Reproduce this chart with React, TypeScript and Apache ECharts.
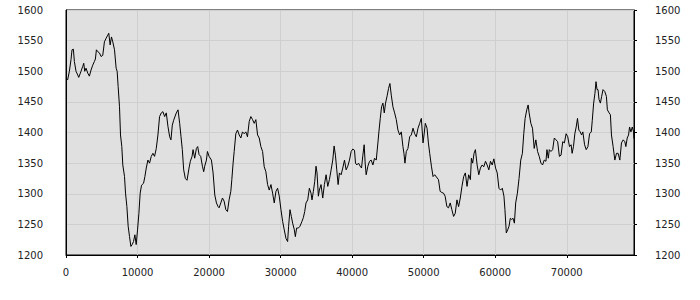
import React, { useEffect, useRef } from "react";
import * as echarts from "echarts";

const xTickLabels = ["0", "10000", "20000", "30000", "40000", "50000", "60000", "70000"];
const yTickLabels = ["1200", "1250", "1300", "1350", "1400", "1450", "1500", "1550", "1600"];

const xs = [
  0, 230, 470, 700, 840, 1030, 1170, 1400, 1640, 1780, 2100, 2340, 2480, 2620, 2800, 3040, 3270, 3500, 3740, 3970,
  4110, 4250, 4440, 4670, 4910, 5140, 5370, 5610, 5840, 5980, 6170, 6360, 6540, 6780, 7010, 7150, 7290, 7480, 7620, 7800,
  7940, 8180, 8320, 8510, 8690, 8880, 9070, 9250, 9440, 9630, 9810, 10000, 10190, 10370, 10560, 10840, 11030, 11220, 11450, 11680,
  11920, 12150, 12380, 12620, 12850, 13080, 13320, 13550, 13790, 14020, 14250, 14490, 14670, 14860, 15050, 15420, 15660, 15890, 16080, 16260,
  16450, 16680, 16920, 17200, 17380, 17620, 17760, 17990, 18230, 18410, 18600, 18830, 19070, 19250, 19390, 19630, 19770, 20000, 20330, 20560,
  20800, 21030, 21260,
  21400, 21640, 21870, 22100, 22340, 22570, 22800, 23040, 23180, 23360, 23510, 23740, 23970, 24210, 24440, 24670, 24910, 25140, 25370, 25610,
  25840, 26080, 26310, 26540, 26780, 27010, 27240, 27480, 27710, 27940, 28180, 28410, 28650, 28880, 29110, 29350, 29580, 29810, 30050, 30280,
  30510, 30750, 30980, 31120, 31310, 31500, 31680, 31920, 32060, 32240, 32480, 32710, 32990, 33180, 33370, 33550, 33790, 34020, 34250, 34390,
  34580, 34770, 34950, 35090, 35280, 35420, 35650, 35890, 36120, 36360, 36590, 36820, 37060, 37290, 37480, 37660, 37850, 38040, 38220, 38460,
  38690, 38930, 39160, 39390, 39630, 39860, 40090, 40330, 40470, 40650, 40890, 41120, 41310, 41500, 41680, 41820, 41960, 42200, 42430, 42660,
  42900, 43130, 43370, 43600, 43740, 43930, 44110, 44300, 44490, 44670, 44910, 45090, 45280, 45470, 45700, 45940, 46170, 46400, 46640, 46870,
  47100, 47240, 47380, 47570, 47800, 48040, 48270, 48510, 48740, 48970, 49210, 49440, 49670, 49910, 50050, 50230, 50470, 50660, 50840, 51080,
  51310, 51540,
  52070, 52300, 52540, 52770, 53000, 53240, 53470, 53710, 53940, 54180, 54410, 54650, 54880, 55120, 55350, 55590, 55820, 56060, 56290, 56530,
  56670, 56850, 57040, 57230, 57470, 57700, 57930, 58170, 58400, 58640, 58870, 59110, 59340, 59580, 59810, 60050, 60280, 60520, 60750, 60990,
  61220, 61360, 61550, 61740, 61930, 62110, 62300, 62490, 62680, 62860, 63100, 63330, 63570, 63800, 63990, 64180, 64410, 64600, 64740, 64980,
  65210, 65450, 65680, 65920, 66150, 66390, 66620, 66850, 67090, 67230, 67420, 67560, 67790, 68030, 68260, 68500, 68730, 68970, 69200, 69440,
  69670, 69910, 70140, 70380, 70610, 70750, 70940, 71130, 71320, 71500, 71690, 71880, 72070, 72250, 72490, 72720, 72960, 73190, 73430, 73570,
  73760, 73940, 74090, 74230, 74370, 74510, 74700, 74880, 75070, 75310, 75540, 75680, 75920, 76100, 76250, 76480, 76720, 76950, 77180, 77420,
  77650, 77890, 78120, 78260, 78450, 78640, 78780, 78970, 79160, 79340, 79400,
];

const prices = [
  1489, 1486, 1500, 1519, 1535, 1536, 1516, 1500, 1494, 1490, 1500, 1508, 1513, 1500, 1505, 1497, 1492, 1502, 1510, 1516,
  1520, 1535, 1532, 1530, 1524, 1526, 1548, 1554, 1559, 1562, 1543, 1556, 1548, 1535, 1505, 1500, 1475, 1442, 1396, 1377,
  1347, 1328, 1301, 1279, 1247, 1230, 1214, 1217, 1222, 1233, 1217, 1241, 1268, 1301, 1314, 1317, 1328, 1342, 1355, 1350,
  1361, 1366, 1361, 1374, 1396, 1426, 1432, 1434, 1426, 1432, 1410, 1393, 1388, 1412, 1420, 1432, 1437, 1415, 1393, 1372,
  1339, 1325, 1322, 1342, 1353, 1361, 1372, 1358, 1374, 1377, 1364, 1361, 1345, 1336, 1345, 1355, 1369, 1361, 1355, 1334,
  1298, 1285, 1279,
  1277, 1285, 1293, 1288, 1274, 1271, 1290, 1304, 1323, 1350, 1369, 1398, 1404, 1396, 1391, 1401, 1398, 1401, 1393, 1418,
  1426, 1421, 1415, 1421, 1396, 1391, 1377, 1369, 1344, 1336, 1315, 1306, 1315, 1301, 1285, 1304, 1309, 1296, 1274, 1255,
  1241, 1227, 1222, 1247, 1274, 1263, 1252, 1241, 1230, 1244, 1244, 1247, 1255, 1261, 1271, 1285, 1290, 1309, 1301, 1290,
  1304, 1320, 1345, 1334, 1296, 1306, 1315, 1293, 1315, 1331, 1312, 1323, 1339, 1355, 1378, 1363, 1339, 1315, 1334, 1331,
  1342, 1355, 1339, 1345, 1355, 1369, 1373, 1371, 1350, 1347, 1350, 1345, 1342, 1363, 1380, 1350, 1331, 1345, 1353, 1355,
  1347, 1358, 1355, 1383, 1401, 1423, 1442, 1448, 1432, 1448, 1461, 1472, 1480, 1461, 1442, 1432, 1421, 1404, 1396, 1401,
  1377, 1366, 1350, 1369, 1374, 1393, 1396, 1407, 1398, 1393, 1407, 1415, 1423, 1383, 1396, 1415, 1407, 1383, 1366, 1345,
  1328, 1331,
  1323, 1304, 1302, 1301, 1296, 1279, 1277, 1285, 1274, 1263, 1268, 1290, 1279, 1293, 1312, 1328, 1334, 1312, 1331, 1323,
  1358, 1350, 1366, 1372, 1347, 1331, 1342, 1347, 1344, 1353, 1347, 1339, 1353, 1347, 1357, 1342, 1334, 1309, 1306, 1309,
  1296, 1274, 1236, 1241, 1247, 1260, 1258, 1260, 1252, 1285, 1301, 1325, 1355, 1366, 1398, 1423, 1437, 1445, 1432, 1415,
  1407, 1374, 1388, 1369, 1361, 1350, 1347, 1355, 1353, 1372, 1358, 1372, 1369, 1372, 1391, 1388, 1385, 1361, 1363, 1385,
  1383, 1398, 1393, 1377, 1380, 1366, 1377, 1398, 1409, 1423, 1404, 1401, 1396, 1401, 1380, 1372, 1377, 1398, 1401, 1420,
  1448, 1464, 1483, 1470, 1470, 1454, 1448, 1459, 1470, 1467, 1459, 1437, 1432, 1429, 1396, 1377, 1355, 1366, 1366, 1355,
  1383, 1388, 1385, 1377, 1391, 1396, 1409, 1401, 1409, 1401, 1390,
];

const X_MAX = 79400;

export default function App() {
  const ref = useRef<HTMLDivElement>(null);
  useEffect(() => {
    if (!ref.current) return;
    const chart = echarts.init(ref.current, null, { renderer: "svg" });
    const labelStyle = { color: "#222", fontFamily: "DejaVu Sans", fontSize: 10 };
    chart.setOption({
      animation: false,
      grid: {
        left: 66,
        right: 66,
        top: 10,
        bottom: 45,
        show: true,
        backgroundColor: "#e0e0e0",
        borderColor: "#000",
        borderWidth: 1,
      },
      xAxis: {
        type: "value",
        min: 0,
        max: X_MAX,
        interval: 10000,
        axisLine: { show: true, lineStyle: { color: "#000", width: 1 } },
        axisTick: { show: true, length: 3, lineStyle: { color: "#000" } },
        axisLabel: {
          ...labelStyle,
          margin: 12,
          showMaxLabel: false,
          formatter: (v: number) => {
            const i = Math.round(v / 10000);
            return v % 10000 === 0 && i < xTickLabels.length ? xTickLabels[i] : "";
          },
        },
        splitLine: { show: true, lineStyle: { color: "#cfcfcf", width: 1 } },
      },
      yAxis: [
        {
          type: "value",
          position: "left",
          min: 1200,
          max: 1600,
          interval: 50,
          axisLine: { show: true, lineStyle: { color: "#000" } },
          axisTick: { show: false },
          axisLabel: {
            ...labelStyle,
            margin: 23,
            formatter: (v: number) => yTickLabels[Math.round((v - 1200) / 50)] ?? "",
          },
          splitLine: { show: true, lineStyle: { color: "#cfcfcf", width: 1 } },
        },
        {
          type: "value",
          position: "right",
          min: 1200,
          max: 1600,
          interval: 50,
          axisLine: { show: true, lineStyle: { color: "#000" } },
          axisTick: { show: true, length: 3, lineStyle: { color: "#000" } },
          axisLabel: {
            ...labelStyle,
            margin: 21,
            formatter: (v: number) => yTickLabels[Math.round((v - 1200) / 50)] ?? "",
          },
          splitLine: { show: false },
        },
      ],
      series: [
        {
          type: "line",
          yAxisIndex: 0,
          data: xs.map((x, i) => [x, prices[i]]),
          showSymbol: false,
          symbol: "none",
          lineStyle: { color: "#000", width: 1 },
          silent: true,
        },
      ],
    });
    return () => chart.dispose();
  }, []);
  return (
    <div
      ref={ref}
      style={{ position: "fixed", left: 0, top: 0, width: 700, height: 300, background: "#fff" }}
    />
  );
}
